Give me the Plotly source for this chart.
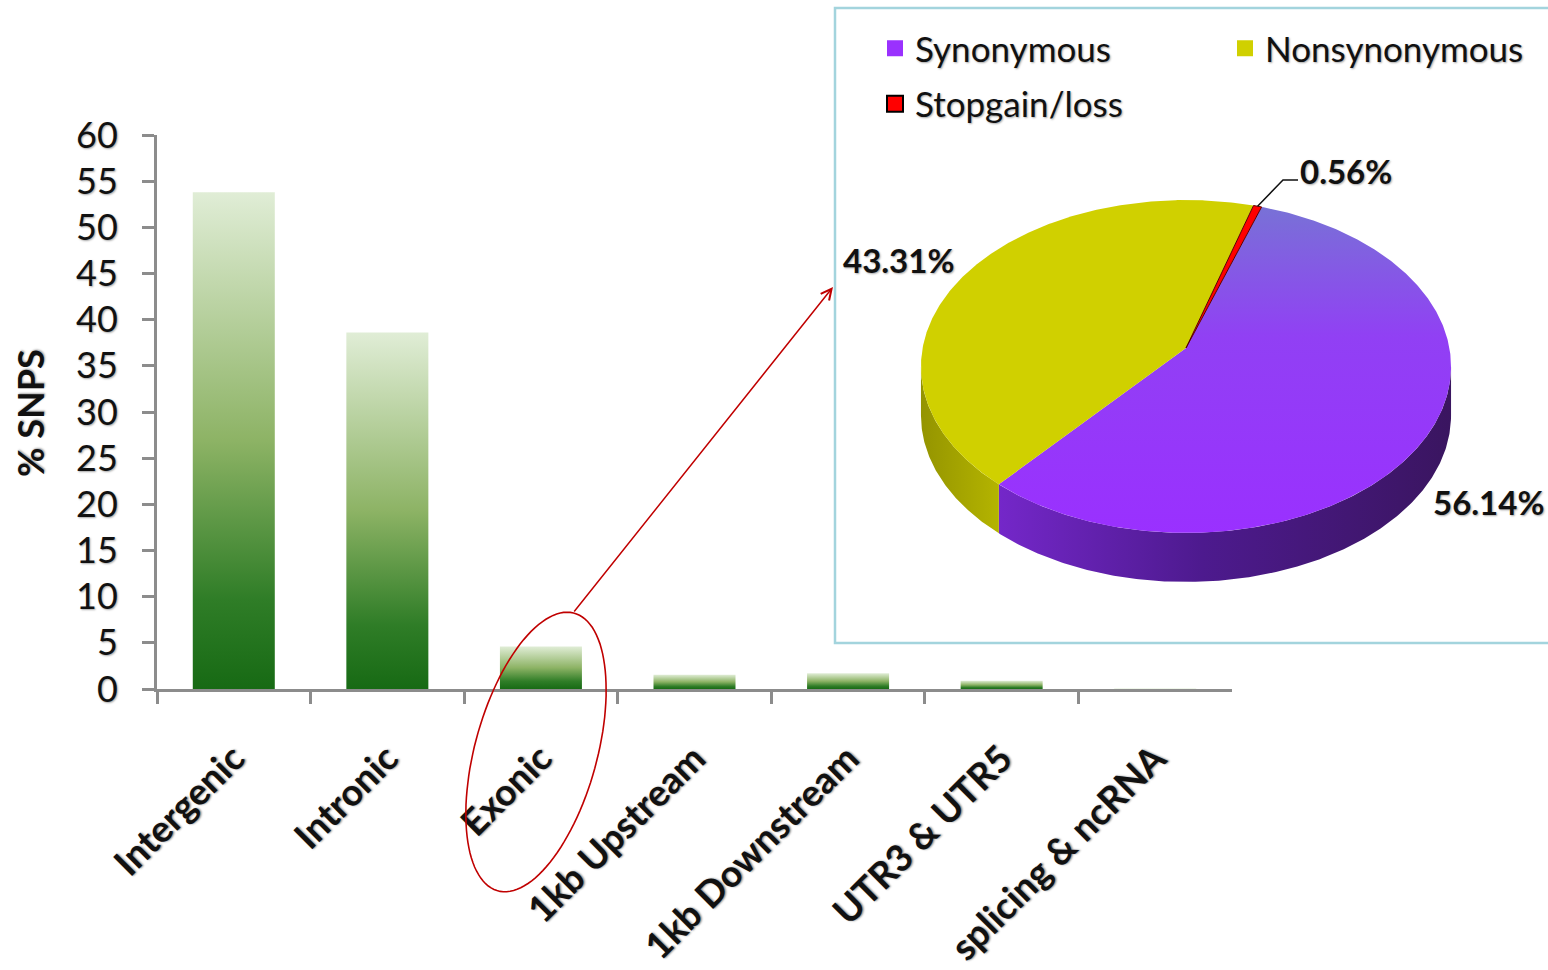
import numpy as np
import plotly.graph_objects as go

# ---- data -------------------------------------------------------------
regions = ["Intergenic", "Intronic", "Exonic", "1kb Upstream",
           "1kb Downstream", "UTR3 & UTR5", "splicing & ncRNA"]
pct_snps = [53.8, 38.6, 4.6, 1.55, 1.7, 0.9, 0.05]

exonic_classes = ["Synonymous", "Nonsynonymous", "Stopgain/loss"]
exonic_pct = [56.14, 43.31, 0.56]

# ---- style ------------------------------------------------------------
W, H = 1548, 970
AXIS_GREY = "#8c8c8c"
BAR_SCALE = [[0.0, "#176a14"], [0.18, "#2f7d27"], [0.5, "#8db365"], [1.0, "#e0edd6"]]
CLASS_COLORS = {"Synonymous": "#9a31fe", "Nonsynonymous": "#d0d000", "Stopgain/loss": "#ff0000"}
CLASS_LEGEND = {"Synonymous": "legend", "Nonsynonymous": "legend2", "Stopgain/loss": "legend"}
FONT = "Lato"
TEXT_SHADOW = "1px 1px 2px rgba(0,0,0,0.35)"


def px_x(x):
    return x / W


def px_y(y):
    return 1 - y / H


fig = go.Figure()

# ---- gradient bars ------------------------------------------------------
half = 0.267
for i, v in enumerate(pct_snps):
    fig.add_trace(go.Scatter(
        x=[i - half, i - half, i + half, i + half, i - half],
        y=[0, v, v, 0, 0],
        mode="lines", line=dict(width=0), fill="toself",
        fillgradient=dict(type="vertical", colorscale=BAR_SCALE),
        hoverinfo="skip", showlegend=False, xaxis="x", yaxis="y",
    ))

# ---- 3-D pie on a pixel-space overlay axis ------------------------------
PIE_CX, PIE_CY = 1186, 348
PIE_RX, PIE_RY = 263.4, 164.4
PIE_P = 0.111          # perspective foreshortening of the far side
PIE_DEPTH = 49
PIE_START = 18.5       # first slice edge, degrees clockwise from 12 o'clock


def rim(theta_deg, drop=0.0):
    t = np.radians(theta_deg)
    X, Y = np.sin(t), np.cos(t)
    w = 1 + PIE_P * Y
    return PIE_CX + PIE_RX * X / w, PIE_CY - PIE_RY * Y / w + drop


def arc(a0, a1, drop=0.0):
    n = max(int(abs(a1 - a0) * 2) + 2, 3)
    th = np.linspace(a0, a1, n)
    xs, ys = rim(th, drop)
    return list(xs), list(ys)


total = sum(exonic_pct)
edges = [PIE_START]
for v in exonic_pct:
    edges.append(edges[-1] + v / total * 360.0)

sil = np.degrees(np.arccos(-PIE_P))            # silhouette angle (front side visible)
vis_lo, vis_hi = sil, 360 - sil

side_scales = {
    "Synonymous": [[0, "#7427c9"], [0.45, "#4d1a8e"], [1, "#3a1560"]],
    "Nonsynonymous": [[0, "#949400"], [1, "#b4b400"]],
    "Stopgain/loss": [[0, "#b00000"], [1, "#700000"]],
}

# visible side walls
for name, a0, a1 in zip(exonic_classes, edges[:-1], edges[1:]):
    for shift in (0, 360):
        s = max(a0, vis_lo + shift)
        e = min(a1, vis_hi + shift)
        if e <= s:
            continue
        tx, ty = arc(s, e)
        bx, by = arc(e, s, drop=PIE_DEPTH)
        fig.add_trace(go.Scatter(
            x=tx + bx + [tx[0]], y=ty + by + [ty[0]],
            mode="lines", line=dict(width=0), fill="toself",
            fillgradient=dict(type="horizontal", colorscale=side_scales[name]),
            hoverinfo="skip", showlegend=False, xaxis="x2", yaxis="y2",
        ))

# top faces
for name, a0, a1 in zip(exonic_classes, edges[:-1], edges[1:]):
    ax_, ay_ = arc(a0, a1)
    kw = dict(fillcolor=CLASS_COLORS[name])
    line = dict(width=0)
    if name == "Synonymous":
        kw = dict(fillgradient=dict(type="vertical", start=205, stop=535,
                                    colorscale=[[0, "#7872d6"], [0.4, "#9140f4"], [1, "#9a30ff"]]))
    if name == "Stopgain/loss":
        line = dict(width=1, color="#5a0000")
    fig.add_trace(go.Scatter(
        x=[PIE_CX] + ax_ + [PIE_CX], y=[PIE_CY] + ay_ + [PIE_CY],
        mode="lines", line=line, fill="toself", hoverinfo="skip",
        showlegend=False, xaxis="x2", yaxis="y2", **kw,
    ))

# legend entries
for name in exonic_classes:
    fig.add_trace(go.Scatter(
        x=[None], y=[None], mode="markers", name=name,
        legend=CLASS_LEGEND[name], legendgroup=name,
        marker=dict(symbol="square", size=18, color=CLASS_COLORS[name],
                    line=dict(width=2 if name == "Stopgain/loss" else 0, color="#000000")),
        xaxis="x2", yaxis="y2",
    ))

# ---- annotations --------------------------------------------------------
label_font = dict(family=FONT, size=33, color="#111111", weight="bold", shadow=TEXT_SHADOW)
mids = [(a0 + a1) / 2 for a0, a1 in zip(edges[:-1], edges[1:])]
label_pos = {"Synonymous": (1488, 502), "Nonsynonymous": (898, 260), "Stopgain/loss": (1346, 171)}
annotations = []
for name, v in zip(exonic_classes, exonic_pct):
    lx, ly = label_pos[name]
    annotations.append(dict(x=lx, y=ly, xref="x2", yref="y2", text=f"{v:.2f}%",
                            showarrow=False, font=label_font))

# leader line for the smallest slice
rx0, ry0 = rim(mids[2])
shapes = [
    dict(type="path", xref="x2", yref="y2",
         path=f"M{rx0:.1f},{ry0:.1f} L1283,180 L1298,180",
         line=dict(color="#111111", width=1.5)),
    # pie panel frame
    dict(type="rect", xref="x2", yref="y2", x0=835, y0=8, x1=1570, y1=643,
         line=dict(color="#a3d4dd", width=2.5), layer="below"),
]

# red ellipse around the exonic bar
ecx, ecy, ea, eb, etilt = 536, 752, 144, 61, np.radians(15.4)
tt = np.linspace(0, 2 * np.pi, 120)
ex = ecx + eb * np.cos(tt) * np.cos(etilt) + ea * np.sin(tt) * np.sin(etilt)
ey = ecy - ea * np.sin(tt) * np.cos(etilt) + eb * np.cos(tt) * np.sin(etilt)
epath = "M" + " L".join(f"{a:.1f},{b:.1f}" for a, b in zip(ex, ey)) + " Z"
shapes.append(dict(type="path", xref="x2", yref="y2", path=epath,
                   line=dict(color="#c00000", width=1.6)))

annotations.append(dict(x=833, y=287, xref="x2", yref="y2", ax=573, ay=613,
                        axref="x2", ayref="y2", text="", showarrow=True,
                        arrowhead=5, arrowsize=1.4, arrowwidth=1.5,
                        arrowcolor="#c00000", standoff=0))

annotations.append(dict(x=30, y=413, xref="x2", yref="y2", text="% SNPS",
                        textangle=-90, showarrow=False,
                        font=dict(family=FONT, size=36, color="#111111", weight="bold",
                                  shadow=TEXT_SHADOW)))

legend_common = dict(orientation="v", xanchor="left", yanchor="top",
                     font=dict(family=FONT, size=35, color="#111111", shadow=TEXT_SHADOW),
                     bgcolor="rgba(0,0,0,0)", itemclick=False, itemdoubleclick=False,
                     tracegroupgap=7)

# ---- layout -------------------------------------------------------------
fig.update_layout(
    width=W, height=H,
    margin=dict(l=0, r=0, t=0, b=0, autoexpand=False),
    paper_bgcolor="white", plot_bgcolor="rgba(0,0,0,0)",
    showlegend=True,
    legend=dict(x=px_x(875), y=px_y(19), **legend_common),
    legend2=dict(x=px_x(1225), y=px_y(19), **legend_common),
    xaxis=dict(domain=[px_x(157), px_x(1232)], range=[-0.5, 6.5], automargin=False,
               tickmode="array", tickvals=list(range(len(regions))), ticktext=regions,
               tickangle=-45, ticks="", ticklabelstandoff=30,
               tickfont=dict(family=FONT, size=37, color="#111111", weight="bold",
                             shadow="1px 1px 2px rgba(0,0,0,0.45)"),
               showline=True, linecolor=AXIS_GREY, linewidth=3,
               showgrid=False, zeroline=False, fixedrange=True,
               minor=dict(tickmode="array", tickvals=[k - 0.5 for k in range(len(regions))],
                          ticks="outside", ticklen=12, tickwidth=3, tickcolor=AXIS_GREY)),
    yaxis=dict(domain=[px_y(689), px_y(135)], range=[0, 60], dtick=5, tick0=0,
               automargin=False,
               ticks="outside", ticklen=12, tickwidth=3, tickcolor=AXIS_GREY,
               ticklabelstandoff=17,
               tickfont=dict(family=FONT, size=36, color="#111111", shadow=TEXT_SHADOW),
               showline=True, linecolor=AXIS_GREY, linewidth=3,
               showgrid=False, zeroline=False, fixedrange=True, anchor="x"),
    xaxis2=dict(domain=[0, 1], range=[0, W], visible=False, anchor="y2",
                fixedrange=True, automargin=False),
    yaxis2=dict(domain=[0, 1], range=[H, 0], visible=False, anchor="x2",
                fixedrange=True, automargin=False),
    shapes=shapes,
    annotations=annotations,
)

fig.write_html("out.html")
